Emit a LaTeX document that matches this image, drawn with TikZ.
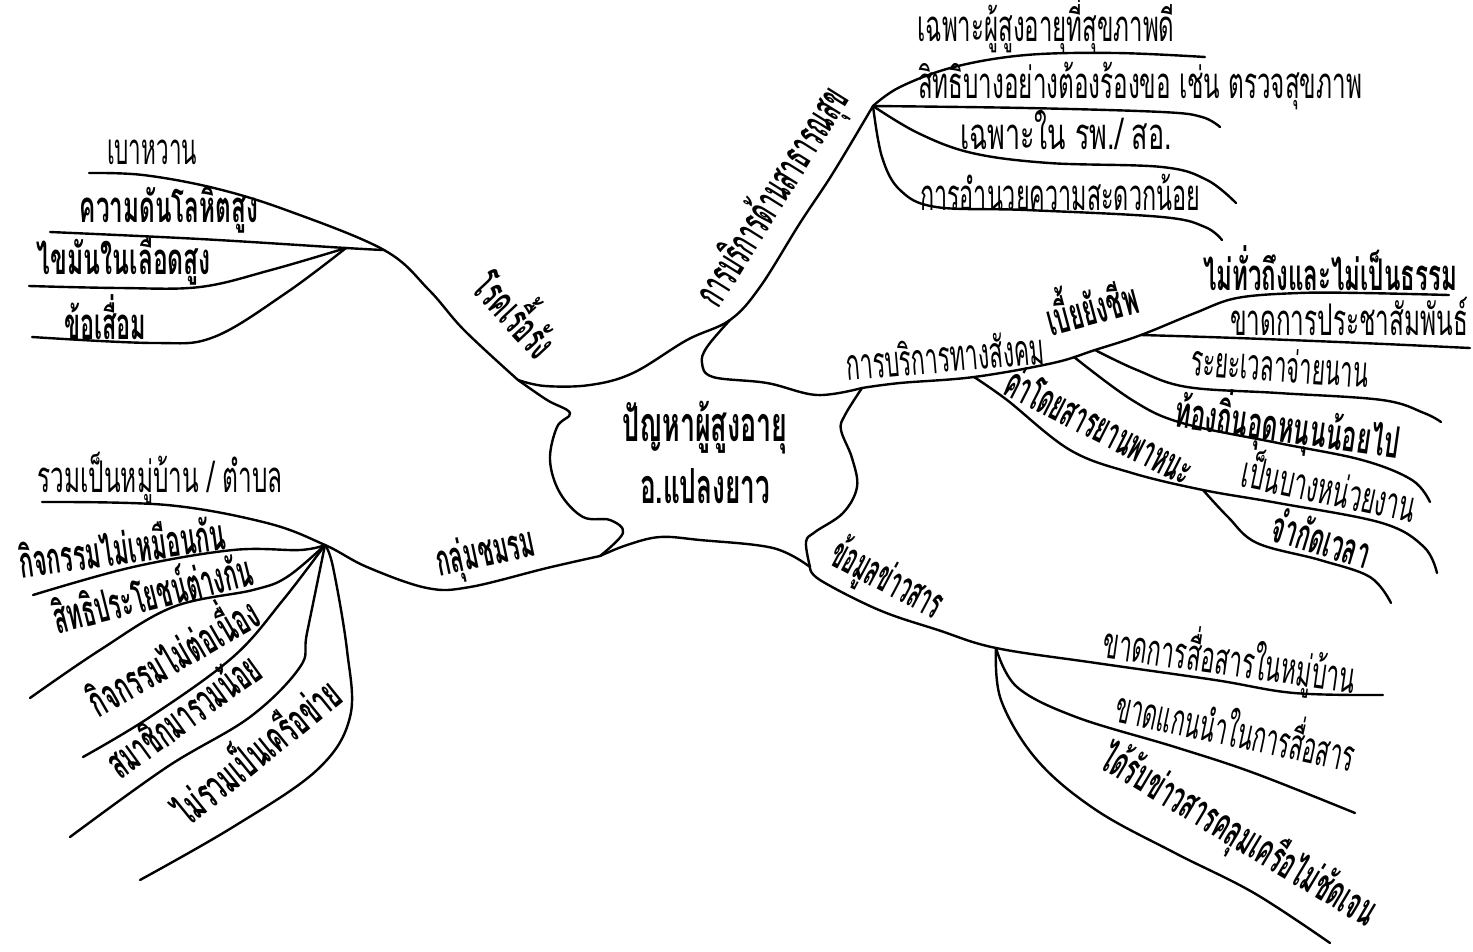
\documentclass[tikz,border=0pt]{standalone}
\usepackage{fontspec}
\usepackage{graphicx}
\newfontfamily\thai[Script=Thai]{Loma}
% set a label to a given length along its baseline, slightly taller than natural
\newcommand\fitw[2]{\resizebox{#1pt}{1.18\height}{#2}}

\tikzset{
  br/.style={line width=2.4pt, line cap=round, line join=round},
  lbl/.style={inner sep=0pt, font=\thai\fontsize{37}{37}\selectfont},
  lblb/.style={inner sep=0pt, font=\thai\bfseries\fontsize{37}{37}\selectfont},
  hub/.style={inner sep=0pt, font=\thai\bfseries\fontsize{41}{41}\selectfont},
}

\begin{document}
\begin{tikzpicture}[x=1pt,y=-1pt]
\useasboundingbox (0,0) rectangle (1473,951);
\fill[white] (0,0) rectangle (1473,951);

% ---------- central cloud ----------
\coordinate (sTL) at (518,380);
\coordinate (sT)  at (730,320);
\coordinate (sR)  at (862,388);
\coordinate (sBR) at (810,567);
\coordinate (sBL) at (600,556);

\draw[br] plot[smooth,tension=.6] coordinates {(sT) (707,347) (702,363) (713,377) (767,383) (817,395) (sR)};
\draw[br] plot[smooth,tension=.6] coordinates {(sR) (845,415) (841,430) (852,458) (857,487) (843,513) (815,532) (806,542) (sBR)};
\draw[br] plot[smooth,tension=.6] coordinates {(sBR) (773,548) (700,540) (660,537) (627,545) (sBL)};
\draw[br] plot[smooth,tension=.6] coordinates {(sBL) (623,533) (610,520) (583,517) (560,493) (550,460) (557,427) (570,413) (547,400) (sTL)};

\node[hub] (c1) at (705,428) {\fitw{165}{ปัญหาผู้สูงอายุ}};
\node[hub] (c2) at (705,486) {\fitw{130}{อ.แปลงยาว}};

% ---------- chronic disease ----------
\coordinate (jL)  at (384,250);
\coordinate (jL2) at (346,248);
\draw[br] plot[smooth,tension=.6] coordinates {(sTL) (464,330) (429,290) (jL) (286,210) (214,188) (143,175) (89,173)};
\draw[br] plot[smooth,tension=.6] coordinates {(jL) (jL2) (200,239) (50,232)};
\draw[br] plot[smooth,tension=.6] coordinates {(jL2) (271,270) (200,287) (120,288) (29,286)};
\draw[br] plot[smooth,tension=.6] coordinates {(jL2) (286,293) (214,337) (154,343) (32,337)};

\node[lblb, rotate=-47] (tChronic) at (520,310) {\fitw{98}{โรคเรื้อรัง}};
\node[lbl]  (tDiab)  at (152,152) {\fitw{90}{เบาหวาน}};
\node[lblb] (tBP)    at (169,210) {\fitw{178}{ความดันโลหิตสูง}};
\node[lblb] (tLip)   at (124,261) {\fitw{174}{ไขมันในเลือดสูง}};
\node[lblb] (tJoint) at (105,317) {\fitw{82}{ข้อเสื่อม}};

% ---------- public health services ----------
\coordinate (jH) at (873,106);
\draw[br] plot[smooth,tension=.6] coordinates {(sTL) (545,386) (590,385) (633,373) (687,340) (sT) (760,287) (800,223) (833,173) (jH)};
\draw[br] plot[smooth,tension=.6] coordinates {(jH) (900,87) (954,67) (1026,55) (1116,53) (1205,57)};
\draw[br] plot[smooth,tension=.6] coordinates {(jH) (1026,108) (1162,112) (1202,117) (1220,127)};
\draw[br] plot[smooth,tension=.6] coordinates {(jH) (918,133) (972,153) (1049,163) (1162,167) (1207,180) (1236,203)};
\draw[br] plot[smooth,tension=.6] coordinates {(jH) (882,157) (900,190) (936,207) (1026,210) (1162,217) (1205,227) (1222,240)};

\node[lblb, rotate=58] (tHealth) at (774,198) {\fitw{248}{การบริการด้านสาธารณสุข}};
\node[lbl] (h1) at (1046,25)  {\fitw{257}{เฉพาะผู้สูงอายุที่สุขภาพดี}};
\node[lbl] (h2) at (1140,86)  {\fitw{444}{สิทธิบางอย่างต้องร้องขอ เช่น ตรวจสุขภาพ}};
\node[lbl] (h3) at (1066,130) {\fitw{212}{เฉพาะใน รพ./ สอ.}};
\node[lbl] (h4) at (1060,192) {\fitw{280}{การอำนวยความสะดวกน้อย}};

% ---------- social services ----------
\coordinate (jS1) at (974,377);
\coordinate (jS2) at (1074,357);
\coordinate (jS3) at (1095,350);
\coordinate (jS4) at (1141,335);
\coordinate (jS5) at (1203,490);
\draw[br] plot[smooth,tension=.6] coordinates {(sR) (900,383) (jS1) (1053,363) (jS3) (jS4) (1195,313) (1237,298) (1299,293) (1362,293) (1449,295)};
\draw[br] plot[smooth,tension=.6] coordinates {(jS4) (1237,338) (1362,343) (1470,348)};
\draw[br] plot[smooth,tension=.6] coordinates {(jS3) (1137,370) (1187,387) (1278,393) (1382,400) (1424,413) (1441,422)};
\draw[br] plot[smooth,tension=.6] coordinates {(jS2) (1132,400) (1182,423) (1278,443) (1362,460) (1412,480) (1430,502)};
\draw[br] plot[smooth,tension=.6] coordinates {(jS1) (1007,400) (1070,450) (1132,473) (jS5) (1278,503) (1382,523) (1424,547) (1437,573)};
\draw[br] plot[smooth,tension=.6] coordinates {(jS5) (1228,517) (1257,543) (1320,560) (1370,577) (1391,603)};

\node[lbl, rotate=5]    (tSocial) at (945,355)  {\fitw{198}{การบริการทางสังคม}};
\node[lblb, rotate=15]  (s0) at (1090,302) {\fitw{93}{เบี้ยยังชีพ}};
\node[lblb]             (s1) at (1330,268) {\fitw{254}{ไม่ทั่วถึงและไม่เป็นธรรม}};
\node[lbl]              (s2) at (1349,316) {\fitw{238}{ขาดการประชาสัมพันธ์}};
\node[lbl, rotate=-4]   (s3) at (1280,365) {\fitw{178}{ระยะเวลาจ่ายนาน}};
\node[lblb, rotate=-8]  (s4) at (1288,426) {\fitw{226}{ท้องถิ่นอุดหนุนน้อยไป}};
\node[lblb, rotate=-27] (s5) at (1100,425) {\fitw{205}{ค่าโดยสารยานพาหนะ}};
\node[lbl, rotate=-12]  (s6) at (1330,485) {\fitw{176}{เป็นบางหน่วยงาน}};
\node[lblb, rotate=-17] (s7) at (1322,538) {\fitw{101}{จำกัดเวลา}};

% ---------- information ----------
\coordinate (jI) at (996,648);
\draw[br] plot[smooth,tension=.6] coordinates {(sBR) (820,580) (879,610) (938,630) (jI) (1096,663) (1215,680) (1294,693) (1383,695)};
\draw[br] plot[smooth,tension=.6] coordinates {(jI) (1017,687) (1076,717) (1175,747) (1254,773) (1355,813)};
\draw[br] plot[smooth,tension=.6] coordinates {(jI) (1001,700) (1037,760) (1096,810) (1175,853) (1254,893) (1330,943)};

\node[lblb, rotate=-28] (tInfo) at (887,580)  {\fitw{120}{ข้อมูลข่าวสาร}};
\node[lbl, rotate=-8]   (i1) at (1230,659) {\fitw{254}{ขาดการสื่อสารในหมู่บ้าน}};
\node[lbl, rotate=-12]  (i2) at (1237,725) {\fitw{243}{ขาดแกนนำในการสื่อสาร}};
\node[lblb, rotate=-31] (i3) at (1238,836) {\fitw{314}{ได้รับข่าวสารคลุมเครือไม่ชัดเจน}};

% ---------- clubs ----------
\coordinate (jC) at (325,545);
\draw[br] plot[smooth,tension=.6] coordinates {(42,502) (167,505) (267,523) (jC) (367,567) (427,588) (470,587) (547,568) (sBL)};
\draw[br] plot[smooth,tension=.6] coordinates {(jC) (300,550) (233,550) (133,567) (33,595)};
\draw[br] plot[smooth,tension=.6] coordinates {(jC) (287,577) (253,590) (173,607) (100,650) (30,698)};
\draw[br] plot[smooth,tension=.6] coordinates {(jC) (283,600) (233,657) (150,717) (83,757)};
\draw[br] plot[smooth,tension=.6] coordinates {(jC) (307,633) (300,667) (250,717) (167,767) (70,837)};
\draw[br] plot[smooth,tension=.6] coordinates {(jC) (333,567) (347,650) (350,717) (317,770) (233,827) (140,880)};

\node[lblb, rotate=12] (tClub) at (486,555) {\fitw{100}{กลุ่มชมรม}};
\node[lbl]             (k1) at (160,478) {\fitw{245}{รวมเป็นหมู่บ้าน / ตำบล}};
\node[lblb, rotate=8]  (k2) at (122,546) {\fitw{208}{กิจกรรมไม่เหมือนกัน}};
\node[lblb, rotate=14] (k3) at (152,591) {\fitw{204}{สิทธิประโยชน์ต่างกัน}};
\node[lblb, rotate=30] (k4) at (170,652) {\fitw{190}{กิจกรรมไม่ต่อเนื่อง}};
\node[lblb, rotate=36] (k5) at (182,714) {\fitw{178}{สมาชิกมารวมน้อย}};
\node[lblb, rotate=39] (k6) at (254,749) {\fitw{203}{ไม่รวมเป็นเครือข่าย}};
\end{tikzpicture}
\end{document}
